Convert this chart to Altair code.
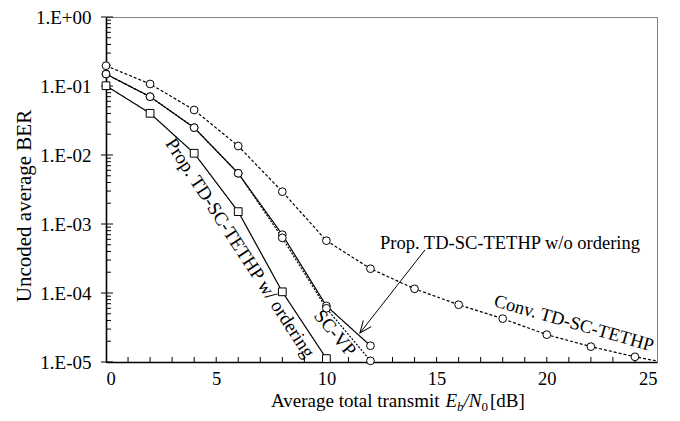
import altair as alt
import pandas as pd

# ---- data ----
snr_w = [0, 2, 4, 6, 8, 10]
ber_prop_w = [0.101, 0.0402, 0.0106, 1.51e-3, 1.04e-4, 1.12e-5]

snr_vp = [0, 2, 4, 6, 8, 10, 12]
ber_scvp = [0.149, 0.070, 0.0249, 0.00543, 7.0e-4, 6.5e-5, 1.72e-5]
ber_prop_wo = [0.149, 0.070, 0.0249, 0.00543, 6.3e-4, 6.0e-5, 1.04e-5]

snr_conv = [0, 2, 4, 6, 8, 10, 12, 14, 16, 18, 20, 22, 24, 26]
ber_conv = [0.197, 0.107, 0.0449, 0.0135, 2.94e-3, 5.73e-4, 2.25e-4, 1.15e-4,
            6.76e-5, 4.25e-5, 2.49e-5, 1.67e-5, 1.19e-5, 9.0e-6]

series_names = ["Prop. w/ ordering", "SC-VP", "Prop. w/o ordering", "Conv."]
y_major = [1, 1e-1, 1e-2, 1e-3, 1e-4, 1e-5]
x_labels = [0, 5, 10, 15, 20, 25]
x_minor = list(range(1, 25))
y_minor = [k * d for d in [1e-1, 1e-2, 1e-3, 1e-4, 1e-5] for k in range(2, 10)]

label_w = "Prop. TD-SC-TETHP w/ ordering"
label_wo = "Prop. TD-SC-TETHP w/o ordering"
label_vp = "SC-VP"
label_conv = "Conv. TD-SC-TETHP"
y_title = "Uncoded average BER"

FONT = "Liberation Serif"

rows = []
for s, xs, ys in [(series_names[0], snr_w, ber_prop_w),
                  (series_names[1], snr_vp, ber_scvp),
                  (series_names[2], snr_vp, ber_prop_wo),
                  (series_names[3], snr_conv, ber_conv)]:
    for a, b in zip(xs, ys):
        rows.append({"series": s, "x": a, "y": b})
df = pd.DataFrame(rows)

xscale = alt.Scale(domain=[0, 25], nice=False, zero=False)
yscale = alt.Scale(type="log", domain=[1e-5, 1], nice=False)

X = alt.X("x:Q", scale=xscale,
          axis=alt.Axis(values=x_labels, ticks=False, grid=False, title=None,
                        labelPadding=7, labelFontSize=18.5, labelFont=FONT,
                        labelColor="black", domainColor="black", domainWidth=1.6))
Y = alt.Y("y:Q", scale=yscale,
          axis=alt.Axis(values=y_major, ticks=False, grid=False, title=None,
                        labelExpr="'1.E' + (datum.value >= 1 ? '+00' : '-0' + format(round(-log(datum.value)/LN10), 'd'))",
                        labelPadding=15, labelFontSize=19, labelFont=FONT,
                        labelColor="black", domainColor="black", domainWidth=1.6))

dash = alt.StrokeDash("series:N", scale=alt.Scale(domain=series_names,
                      range=[[1, 0], [1, 0], [2, 1.5], [3, 2]]), legend=None)
sw = alt.StrokeWidth("series:N", scale=alt.Scale(domain=series_names,
                     range=[1.2, 1.2, 1.0, 1.0]), legend=None)
shape = alt.Shape("series:N", scale=alt.Scale(domain=series_names,
                  range=["square", "circle", "circle", "circle"]), legend=None)

lines = alt.Chart(df).mark_line(clip=True, color="black").encode(
    x=X, y=Y, strokeDash=dash, strokeWidth=sw, detail="series:N")

markers = alt.Chart(df).transform_filter("datum.x <= 25").mark_point(
    filled=True, fill="white", stroke="black", strokeWidth=1, size=60, opacity=1
).encode(x=X, y=Y, shape=shape)

xt = alt.Chart(pd.DataFrame({"x": x_minor})).mark_rule(color="black", strokeWidth=1).encode(
    x=X, y=alt.value(345), y2=alt.value(340))
ytm = alt.Chart(pd.DataFrame({"y": y_minor})).mark_rule(color="black", strokeWidth=1).encode(
    y=Y, x=alt.value(0), x2=alt.value(5))
ytM = alt.Chart(pd.DataFrame({"y": y_major})).mark_rule(color="black", strokeWidth=1).encode(
    y=Y, x=alt.value(-5), x2=alt.value(7))

def txt(label, px, py, angle=0, size=19, align="center", style="normal", baseline="middle"):
    return alt.Chart(pd.DataFrame({"t": [label]})).mark_text(
        font=FONT, fontSize=size, angle=angle, align=align, baseline=baseline,
        fontStyle=style, color="black"
    ).encode(text="t:N", x=alt.value(px), y=alt.value(py))

t_w = txt(label_w, 134, 231, angle=57)
t_vp = txt(label_vp, 229, 316, angle=50)
t_wo = txt(label_wo, 404, 226, size=18.5)
t_conv = txt(label_conv, 468, 306, angle=16, size=18.5)
t_y = txt(y_title, -81, 189, angle=270, size=21)

# x-axis title pieces
xt_base = 390
t_x1 = txt("Average total transmit", 165, xt_base, align="left", baseline="alphabetic")
t_x2 = txt("E", 339.5, xt_base, align="left", style="italic", baseline="alphabetic")
t_x3 = txt("b", 351, xt_base + 3.5, size=13, align="left", style="italic", baseline="alphabetic")
t_x4 = txt("/N", 357.5, xt_base, align="left", style="italic", baseline="alphabetic")
t_x5 = txt("0", 375.5, xt_base + 3.5, size=13, align="left", baseline="alphabetic")
t_x6 = txt("[dB]", 384, xt_base, align="left", baseline="alphabetic")

arrow_df = pd.DataFrame({"x": [14.47], "y": [4.2e-4], "x2": [11.52], "y2": [2.63e-5]})
arrow = alt.Chart(arrow_df).mark_rule(color="black", strokeWidth=1).encode(
    x=X, y=Y, x2="x2:Q", y2="y2:Q")
head = alt.Chart(pd.DataFrame({"x": [11.52], "y": [2.63e-5]})).mark_point(
    shape="M -0.42 -1 L 0 0 L 0.42 -1", angle=38, size=576, filled=False,
    stroke="black", strokeWidth=1, opacity=1).encode(x=X, y=Y)

chart = alt.layer(
    xt, ytm, ytM, lines, markers, arrow, head,
    t_w, t_vp, t_wo, t_conv, t_y, t_x1, t_x2, t_x3, t_x4, t_x5, t_x6
).properties(
    width=551, height=345,
    autosize=alt.AutoSizeParams(type="none"),
    padding={"left": 98, "top": 9, "right": 15, "bottom": 51},
    background="white",
).configure_view(stroke="#808080", strokeWidth=1)

chart.save("out.html", embed_options={"renderer": "svg", "actions": False})
